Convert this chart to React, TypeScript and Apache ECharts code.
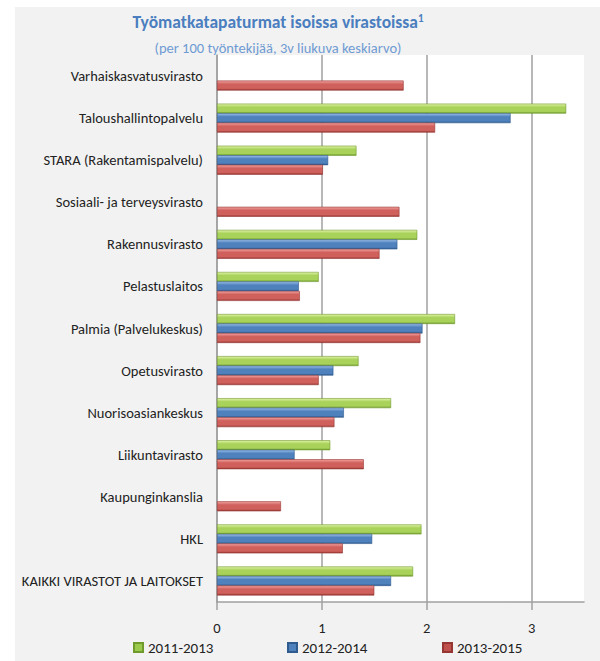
import React, { useEffect, useRef } from "react";
import * as echarts from "echarts";

const categories = [
  "Varhaiskasvatusvirasto",
  "Taloushallintopalvelu",
  "STARA (Rakentamispalvelu)",
  "Sosiaali- ja terveysvirasto",
  "Rakennusvirasto",
  "Pelastuslaitos",
  "Palmia (Palvelukeskus)",
  "Opetusvirasto",
  "Nuorisoasiankeskus",
  "Liikuntavirasto",
  "Kaupunginkanslia",
  "HKL",
  "KAIKKI VIRASTOT JA LAITOKSET",
];
const seriesNames = ["2011-2013", "2012-2014", "2013-2015"];
const values2011_2013 = [null, 3.33, 1.33, null, 1.91, 0.97, 2.27, 1.35, 1.66, 1.08, null, 1.95, 1.87];
const values2012_2014 = [null, 2.8, 1.06, null, 1.72, 0.78, 1.96, 1.11, 1.21, 0.74, null, 1.48, 1.66];
const values2013_2015 = [1.78, 2.08, 1.01, 1.74, 1.55, 0.79, 1.94, 0.97, 1.12, 1.4, 0.61, 1.2, 1.5];
const xTicks = { min: 0, max: 3.5, interval: 1 };

const FONT = 'Carlito, "Liberation Sans Narrow", "Open Sans", sans-serif';

const grad = (light: string, mid: string, dark: string) =>
  new echarts.graphic.LinearGradient(0, 0, 0, 1, [
    { offset: 0, color: light },
    { offset: 0.35, color: mid },
    { offset: 0.8, color: mid },
    { offset: 1, color: dark },
  ]);

export default function App() {
  const ref = useRef<HTMLDivElement>(null);
  useEffect(() => {
    if (!ref.current) return;
    const chart = echarts.init(ref.current, undefined, { renderer: "svg" });
    const styles = [
      { fill: grad("#e2f3a8", "#a8d25a", "#6f9a2c"), border: "#6f9a2c", legend: "#9bc94b" },
      { fill: grad("#9ec0ea", "#4f81bd", "#2f5b8f"), border: "#2f5b8f", legend: "#4f81bd" },
      { fill: grad("#f2a3a1", "#d0605c", "#963632"), border: "#963632", legend: "#c0504d" },
    ];
    const legendLefts = [133, 287, 442];
    const dataSets = [values2011_2013, values2012_2014, values2013_2015];
    chart.setOption({
      animation: false,
      graphic: [
        {
          type: "rect",
          left: 15,
          top: 7,
          shape: { width: 585, height: 654 },
          style: { fill: "#f2f2f2" },
          z: -10,
        },
        {
          type: "text",
          x: 278,
          y: 13,
          style: {
            text: "{t|Työmatkatapaturmat isoissa virastoissa}{s|1}",
            align: "center",
            rich: {
              t: { fontFamily: FONT, fontSize: 17.5, fontWeight: "bold", fill: "#4a7ebf", color: "#4a7ebf", verticalAlign: "bottom" },
              s: { fontFamily: FONT, fontSize: 11, fontWeight: "bold", fill: "#4a7ebf", color: "#4a7ebf", verticalAlign: "top" },
            },
          },
        },
        {
          type: "text",
          x: 278,
          y: 40,
          style: {
            text: "(per 100 työntekijää, 3v liukuva keskiarvo)",
            align: "center",
            fontFamily: FONT,
            fontSize: 14.5,
            fill: "#6f9bd3",
          },
        },
      ],
      legend: seriesNames.map((n, i) => ({
        data: [{ name: n, itemStyle: { color: styles[i].legend } }],
        left: legendLefts[i],
        top: 640,
        padding: 0,
        itemWidth: 9,
        itemHeight: 9,
        icon: "rect",
        textStyle: { fontFamily: FONT, fontSize: 15, color: "#222" },
      })),
      grid: {
        left: 217,
        top: 55,
        right: 16,
        bottom: 59,
        show: true,
        backgroundColor: "#ffffff",
        borderWidth: 0,
      },
      xAxis: {
        type: "value",
        min: xTicks.min,
        max: xTicks.max,
        interval: xTicks.interval,
        axisLine: { show: true, lineStyle: { color: "#a0a0a0", width: 1.5 } },
        axisTick: { show: true, length: 8, lineStyle: { color: "#a0a0a0", width: 1.5 } },
        axisLabel: { showMaxLabel: false, fontFamily: FONT, fontSize: 14.5, color: "#222", margin: 18 },
        splitLine: { show: true, showMaxLine: false, lineStyle: { color: "#a0a0a0", width: 1.5 } },
      },
      yAxis: {
        type: "category",
        data: categories,
        inverse: true,
        axisLine: { show: true, lineStyle: { color: "#a0a0a0", width: 1.5 } },
        axisTick: { show: false },
        axisLabel: { fontFamily: FONT, fontSize: 14.5, color: "#222", margin: 14 },
      },
      series: dataSets.map((d, i) => ({
        name: seriesNames[i],
        type: "bar",
        data: d,
        barWidth: 10,
        barGap: "-5%",
        itemStyle: { color: styles[i].fill, borderColor: styles[i].border, borderWidth: 0.6 },
      })),
    });
    return () => chart.dispose();
  }, []);
  return (
    <div
      ref={ref}
      style={{ position: "fixed", left: 0, top: 0, width: 600, height: 661, background: "#fff" }}
    />
  );
}
